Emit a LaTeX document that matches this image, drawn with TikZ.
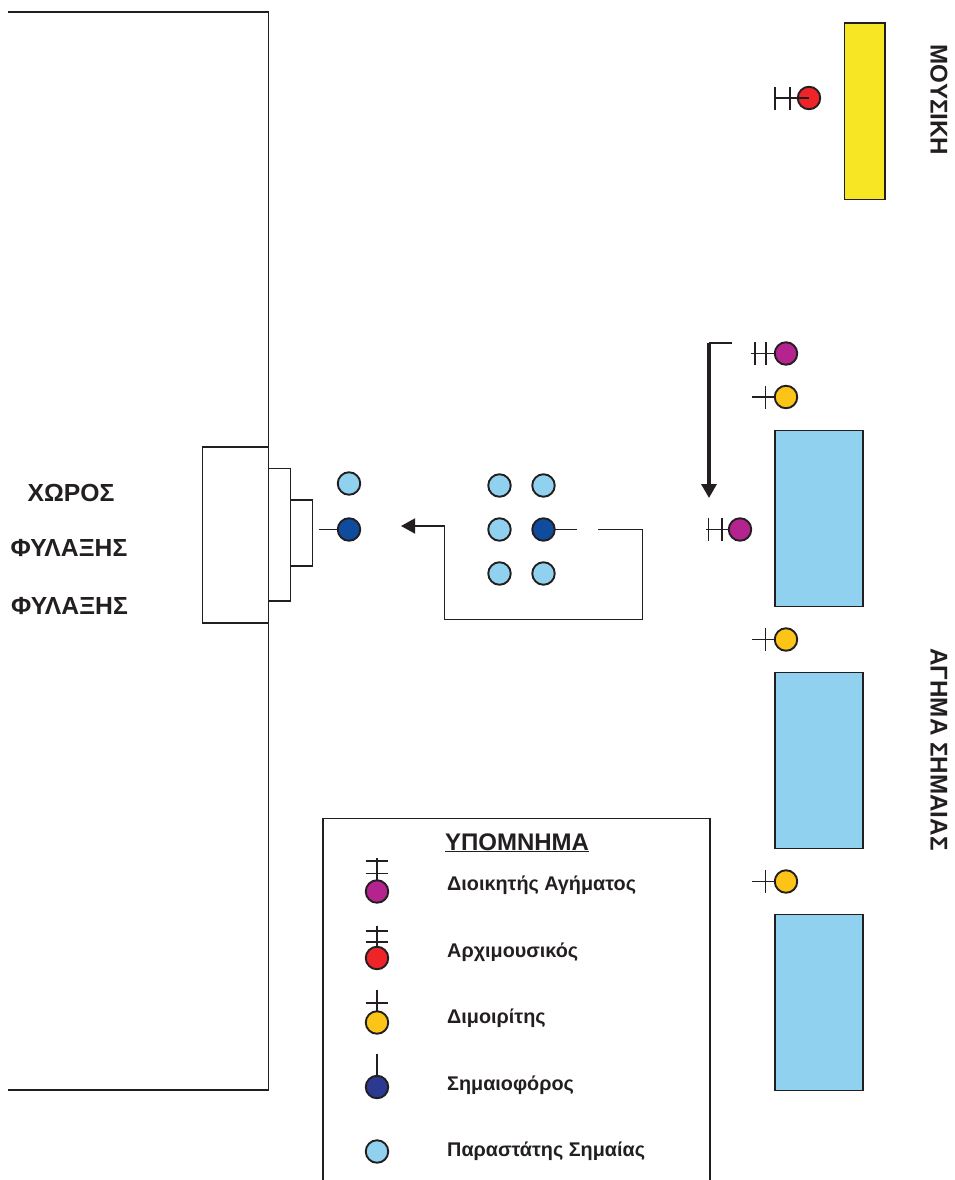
\documentclass[tikz,border=0pt]{standalone}
\usepackage{fontspec}
\setmainfont{Liberation Sans}
\usetikzlibrary{arrows.meta}
\definecolor{ink}{HTML}{231F20}
\definecolor{cmag}{HTML}{B5248E}
\definecolor{cred}{HTML}{EE2429}
\definecolor{cyel}{HTML}{FDC418}
\definecolor{cdark}{HTML}{0F4C9E}
\definecolor{cnavy}{HTML}{2B3990}
\definecolor{clight}{HTML}{8FD1EF}
\definecolor{cband}{HTML}{F7E623}
\tikzset{
  line/.style={draw=ink,line width=1.9pt},
  thin line/.style={draw=ink,line width=1.6pt},
  person/.style={circle,draw=ink,line width=1.9pt,minimum size=22.5pt,inner sep=0pt,outer sep=0pt},
  pmag/.style={person,fill=cmag},
  pred/.style={person,fill=cred},
  pyel/.style={person,fill=cyel},
  pdark/.style={person,fill=cdark},
  pnavy/.style={person,fill=cnavy},
  plight/.style={person,fill=clight},
  squad/.style={line,fill=clight},
  band/.style={line,fill=cband},
  plain box/.style={line,fill=white},
  route/.style={draw=ink,line width=1.7pt},
  heavy route/.style={draw=ink,line width=3.2pt},
  tipl/.style={-{Triangle[length=14pt,width=15pt]}},
  place/.style={font=\fontsize{24.7}{26}\selectfont\bfseries,text=ink,inner sep=0pt},
  side/.style={font=\fontsize{24.2}{26}\selectfont\bfseries,text=ink,inner sep=0pt,rotate=-90},
  legendtitle/.style={font=\fontsize{24}{26}\selectfont\bfseries,text=ink,inner sep=0pt,anchor=base},
  legendtext/.style={font=\fontsize{19.8}{22}\selectfont\bfseries,text=ink,inner sep=0pt,anchor=base west},
}
\begin{document}
\begin{tikzpicture}[x=1pt,y=-1pt]
\useasboundingbox (0,0) rectangle (955,1180);
% wall
\draw[line] (8,12) -- (268.5,12) -- (268.5,1090) -- (8,1090);
\draw[plain box] (202.5,447) rectangle (268.5,623);
\draw[plain box] (268.5,468.5) rectangle (290.5,601);
\draw[plain box] (290.5,500) rectangle (312.5,566);
% blocks
\draw[band] (844.5,23) rectangle (885,199.5);
\draw[squad] (775,430.5) rectangle (863,606.5);
\draw[squad] (775,672.5) rectangle (863,848.5);
\draw[squad] (775,914.5) rectangle (863,1090.5);
% music leader
\node[pred] (mus) at (809,98) {};
\coordinate (musE) at (774,98);
\draw[thin line] (musE) -- (mus.center);
\draw[thin line] (775,87) -- (775,110) (790,87) -- (790,110);
% squad commander, start
\node[pmag] (cmdA) at (786,353.5) {};
\coordinate (cmdAE) at (751,353.5);
\draw[thin line] (cmdAE) -- (cmdA);
\draw[thin line] (755,342) -- (755,365) (766,342) -- (766,365);
% corporals
\node[pyel] (corA) at (786,397) {};
\coordinate (corAE) at (752,397);
\draw[thin line] (corAE) -- (corA);
\draw[thin line] (765.5,385.5) -- (765.5,408.5);
\node[pyel] (corB) at (786,639.5) {};
\coordinate (corBE) at (752,639.5);
\draw[thin line] (corBE) -- (corB);
\draw[thin line] (765.5,628) -- (765.5,651);
\node[pyel] (corC) at (786,881.5) {};
\coordinate (corCE) at (752,881.5);
\draw[thin line] (corCE) -- (corC);
\draw[thin line] (765.5,870) -- (765.5,893);
% squad commander, end
\node[pmag] (cmdB) at (740,529.5) {};
\coordinate (cmdBE) at (706,529.5);
\draw[thin line] (cmdBE) -- (cmdB);
\draw[thin line] (708.5,518) -- (708.5,541) (722,518) -- (722,541);
% routes
\coordinate (dnA) at (732,343);
\coordinate (dnB) at (709,343);
\coordinate (dnC) at (709,498);
\draw[route] (dnA) -- (dnB);
\draw[heavy route,tipl] (dnB) -- (dnC);
\coordinate (rtA) at (598,529.5);
\coordinate (rtB) at (642.5,529.5);
\coordinate (rtC) at (642.5,619.5);
\coordinate (rtD) at (444.5,619.5);
\coordinate (rtE) at (444.5,526);
\coordinate (rtF) at (401,526);
\draw[route] (rtA) -- (rtB) -- (rtC) -- (rtD) -- (rtE);
\draw[route,tipl] (rtE) -- (rtF);
% colour party
\node[plight] (e1) at (499.5,485.5) {};
\node[plight] (e2) at (543.5,485.5) {};
\node[plight] (e3) at (499.5,529.5) {};
\node[pdark] (e4) at (543.5,529.5) {};
\node[plight] (e5) at (499.5,573.5) {};
\node[plight] (e6) at (543.5,573.5) {};
\coordinate (e4E) at (577,529.5);
\draw[thin line] (e4) -- (e4E);
% at the store
\node[plight] (g1) at (349,483.5) {};
\node[pdark] (g2) at (349,529.5) {};
\coordinate (g2E) at (319,529.5);
\draw[thin line] (g2E) -- (g2);
% labels
\node[place] (t1) at (71,493) {ΧΩΡΟΣ};
\node[place] (t2) at (69,548.5) {ΦΥΛΑΞΗΣ};
\node[place] (t3) at (69.5,606.5) {ΦΥΛΑΞΗΣ};
\node[side] (t4) at (939,100) {ΜΟΥΣΙΚΗ};
\node[side] (t5) at (939,749.5) {ΑΓΗΜΑ ΣΗΜΑΙΑΣ};
% legend
\draw[line] (323,1180) -- (323,818.5) -- (710,818.5) -- (710,1180);
\node[legendtitle] (lt) at (517,850) {\underline{ΥΠΟΜΝΗΜΑ}};
\node[pmag] (l1) at (377,891.5) {};
\coordinate (l1E) at (377,858);
\draw[thin line] (l1E) -- (l1);
\draw[thin line] (365.5,861) -- (388,861) (365.5,873.5) -- (388,873.5);
\node[pred] (l2) at (377,958) {};
\coordinate (l2E) at (377,925.5);
\draw[thin line] (l2E) -- (l2);
\draw[thin line] (365.5,931) -- (388,931) (365.5,942) -- (388,942);
\node[pyel] (l3) at (377,1022.5) {};
\coordinate (l3E) at (377,990);
\draw[thin line] (l3E) -- (l3);
\draw[thin line] (365.5,1003) -- (388,1003);
\node[pnavy] (l4) at (377,1087) {};
\coordinate (l4E) at (377,1054);
\draw[thin line] (l4E) -- (l4);
\node[plight] (l5) at (377,1151.5) {};
\node[legendtext] (x1) at (447,890) {Διοικητής Αγήματος};
\node[legendtext] (x2) at (447,957) {Αρχιμουσικός};
\node[legendtext] (x3) at (447,1023.5) {Διμοιρίτης};
\node[legendtext] (x4) at (447,1090) {Σημαιοφόρος};
\node[legendtext] (x5) at (447,1156.5) {Παραστάτης Σημαίας};
\end{tikzpicture}
\end{document}
